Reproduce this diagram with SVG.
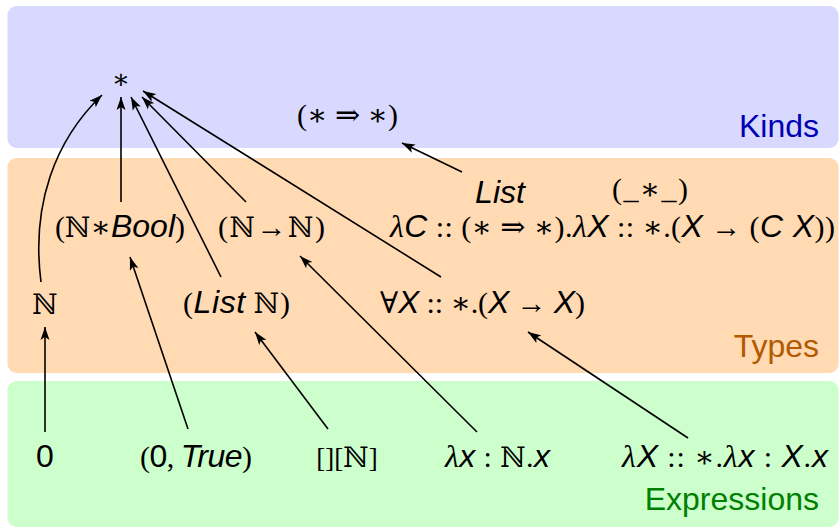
<svg xmlns="http://www.w3.org/2000/svg" width="839" height="528" viewBox="0 0 839 528">
<style>
text{font-size:30px;fill:#000}
.s{font-family:"Liberation Serif","DejaVu Serif",serif}
.v{font-family:"Liberation Sans",Arial,sans-serif;font-style:italic;font-size:32px}
.n{font-family:"DejaVu Serif",serif;font-size:28px}
.r{font-family:"Liberation Sans",Arial,sans-serif;font-size:32px}
.g{font-family:"Liberation Serif","DejaVu Serif",serif;font-style:italic;font-size:32px}
.lbl{font-family:"Liberation Sans",Arial,sans-serif;font-size:32px}
.c{fill:none;stroke:#000;stroke-width:1.6;marker-end:url(#ah)}
</style>
<defs>
<marker id="ah" markerWidth="14" markerHeight="10" refX="13" refY="5" orient="auto" markerUnits="userSpaceOnUse"><path d="M0,0.5 L13,5 L0,9.5 L3,5 z" fill="#000"/></marker>
</defs>
<g id="panels">
<rect x="7.5" y="6" width="831" height="142" rx="9" fill="#d9d9ff"/>
<rect x="7.5" y="158" width="831" height="215" rx="9" fill="#ffdab3"/>
<rect x="7.5" y="381" width="831" height="146" rx="9" fill="#ccffcc"/>
<text class="lbl" x="819" y="137" text-anchor="end" style="fill:#0000b3">Kinds</text>
<text class="lbl" x="819" y="357" text-anchor="end" style="fill:#b35900">Types</text>
<text class="lbl" x="819" y="510" text-anchor="end" style="fill:#008000">Expressions</text>
</g>
<g id="connectors">
<path class="c" d="M41,282 C31,205 55,140 102,95"/>
<path class="c" d="M121,202 L121,97"/>
<path class="c" d="M221,277 L131,97"/>
<path class="c" d="M246,202 L142,97"/>
<path class="c" d="M441,277 L143,91"/>
<path class="c" d="M462,172 L402,143"/>
<path class="c" d="M188,429 L130,257"/>
<path class="c" d="M328,429 L255,332"/>
<path class="c" d="M477,432 L300,256"/>
<path class="c" d="M688,438 L528,332"/>
<path class="c" d="M45,432 L45,327"/>
</g>
<g id="star"><text x="121" y="88" text-anchor="middle" class="s" style="font-size:27px">∗</text></g>
<g id="star-to-star"><text x="347.5" y="125" text-anchor="middle" class="s">(∗ ⇒ ∗)</text></g>
<g id="list"><text x="500" y="203" text-anchor="middle" class="v">List</text></g>
<g id="pair-type"><text x="650" y="199" text-anchor="middle" class="s" textLength="76" lengthAdjust="spacing">(_∗_)</text></g>
<g id="list-def"><text x="612.5" y="237" text-anchor="middle" textLength="445" lengthAdjust="spacing"><tspan class="g">λ</tspan><tspan class="v">C</tspan><tspan class="s"> :: (∗ ⇒ ∗).</tspan><tspan class="g">λ</tspan><tspan class="v">X</tspan><tspan class="s"> :: ∗.(</tspan><tspan class="v">X</tspan><tspan class="s"> → (</tspan><tspan class="v">C  X</tspan><tspan class="s">))</tspan></text></g>
<g id="nat-bool"><text x="120" y="237" text-anchor="middle" textLength="130" lengthAdjust="spacing"><tspan class="s">(</tspan><tspan class="n">ℕ</tspan><tspan class="s">∗</tspan><tspan class="v">Bool</tspan><tspan class="s">)</tspan></text></g>
<g id="nat-fun"><text x="271.5" y="237" text-anchor="middle" textLength="107" lengthAdjust="spacing"><tspan class="s">(</tspan><tspan class="n">ℕ</tspan><tspan class="s">→</tspan><tspan class="n">ℕ</tspan><tspan class="s">)</tspan></text></g>
<g id="nat"><text x="45" y="314" text-anchor="middle" class="n">ℕ</text></g>
<g id="list-nat"><text x="236.5" y="313" text-anchor="middle" textLength="107" lengthAdjust="spacing"><tspan class="s">(</tspan><tspan class="v">List</tspan><tspan class="s"> </tspan><tspan class="n">ℕ</tspan><tspan class="s">)</tspan></text></g>
<g id="forall"><text x="482.5" y="313" text-anchor="middle" textLength="205" lengthAdjust="spacing"><tspan class="s">∀</tspan><tspan class="v">X</tspan><tspan class="s"> :: ∗.(</tspan><tspan class="v">X</tspan><tspan class="s"> → </tspan><tspan class="v">X</tspan><tspan class="s">)</tspan></text></g>
<g id="zero"><text x="45" y="467" text-anchor="middle" class="r">0</text></g>
<g id="pair"><text x="196" y="467" text-anchor="middle" textLength="112" lengthAdjust="spacing"><tspan class="s">(</tspan><tspan class="r">0</tspan><tspan class="s">, </tspan><tspan class="v">True</tspan><tspan class="s">)</tspan></text></g>
<g id="nil"><text x="347" y="467" text-anchor="middle" style="font-size:27px"><tspan class="s" style="font-size:27px">[][</tspan><tspan class="n">ℕ</tspan><tspan class="s" style="font-size:27px">]</tspan></text></g>
<g id="id-nat"><text x="497.5" y="467" text-anchor="middle" textLength="105" lengthAdjust="spacing"><tspan class="g">λ</tspan><tspan class="v">x</tspan><tspan class="s"> : </tspan><tspan class="n">ℕ</tspan><tspan class="s">.</tspan><tspan class="v">x</tspan></text></g>
<g id="poly-id"><text x="725" y="467" text-anchor="middle" textLength="206" lengthAdjust="spacing"><tspan class="g">λ</tspan><tspan class="v">X</tspan><tspan class="s"> :: ∗.</tspan><tspan class="g">λ</tspan><tspan class="v">x</tspan><tspan class="s"> : </tspan><tspan class="v">X</tspan><tspan class="s">.</tspan><tspan class="v">x</tspan></text></g>
</svg>
